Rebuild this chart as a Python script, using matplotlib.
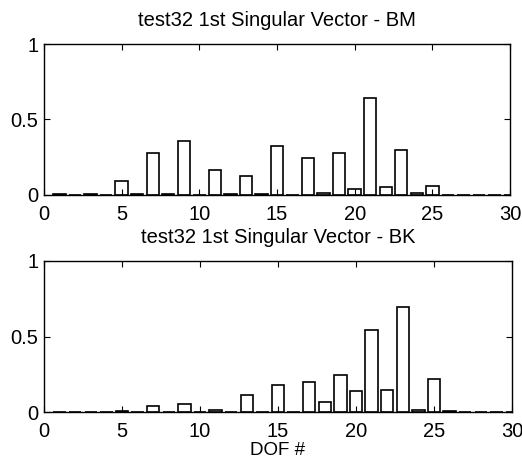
import numpy as np
import matplotlib.pyplot as plt

plt.rcParams['font.family'] = ['Liberation Sans', 'DejaVu Sans']

dof = np.arange(1, 31)
bm = [0.005, 0.0, 0.005, 0.0, 0.092, 0.005, 0.28, 0.004, 0.356, 0.003,
      0.163, 0.004, 0.127, 0.004, 0.323, 0.002, 0.246, 0.015, 0.28, 0.04,
      0.642, 0.053, 0.30, 0.015, 0.059, 0.0, 0.0, 0.0, 0.0, 0.0]
bk = [0.0, 0.0, 0.0, 0.0, 0.009, 0.0, 0.042, 0.0, 0.053, 0.0,
      0.015, 0.0, 0.114, 0.0, 0.18, 0.0, 0.196, 0.068, 0.242, 0.136,
      0.545, 0.143, 0.697, 0.013, 0.22, 0.006, 0.0, 0.0, 0.0, 0.0]
titles = ['test32 1st Singular Vector - BM', 'test32 1st Singular Vector - BK']

fig = plt.figure(figsize=(5.22, 4.65), dpi=100)
# axes placement in pixels: left, bottom, width, height
boxes = [(44, 465 - 195, 466, 151), (44, 465 - 412, 468, 151)]

for vals, title, box in zip([bm, bk], titles, boxes):
    ax = fig.add_axes([box[0] / 522, box[1] / 465, box[2] / 522, box[3] / 465])
    ax.bar(dof, vals, width=0.8, facecolor='white', edgecolor='black', linewidth=1.2)
    ax.set_xlim(0, 30)
    ax.set_ylim(0, 1)
    ax.set_xticks([0, 5, 10, 15, 20, 25, 30])
    ax.set_yticks([0, 0.5, 1])
    ax.set_yticklabels(['0', '0.5', '1'])
    ax.tick_params(direction='in', top=True, right=True, labelsize=14.5, length=4)
    ax.tick_params(axis='x', pad=7)
    ax.tick_params(axis='y', pad=4)
    for s in ax.spines.values():
        s.set_linewidth(1.0)
    ax.set_title(title, fontsize=14.5, pad=13)

ax.set_xlabel('DOF #', fontsize=13.5, labelpad=1)

fig.savefig('out.png', dpi=100)
